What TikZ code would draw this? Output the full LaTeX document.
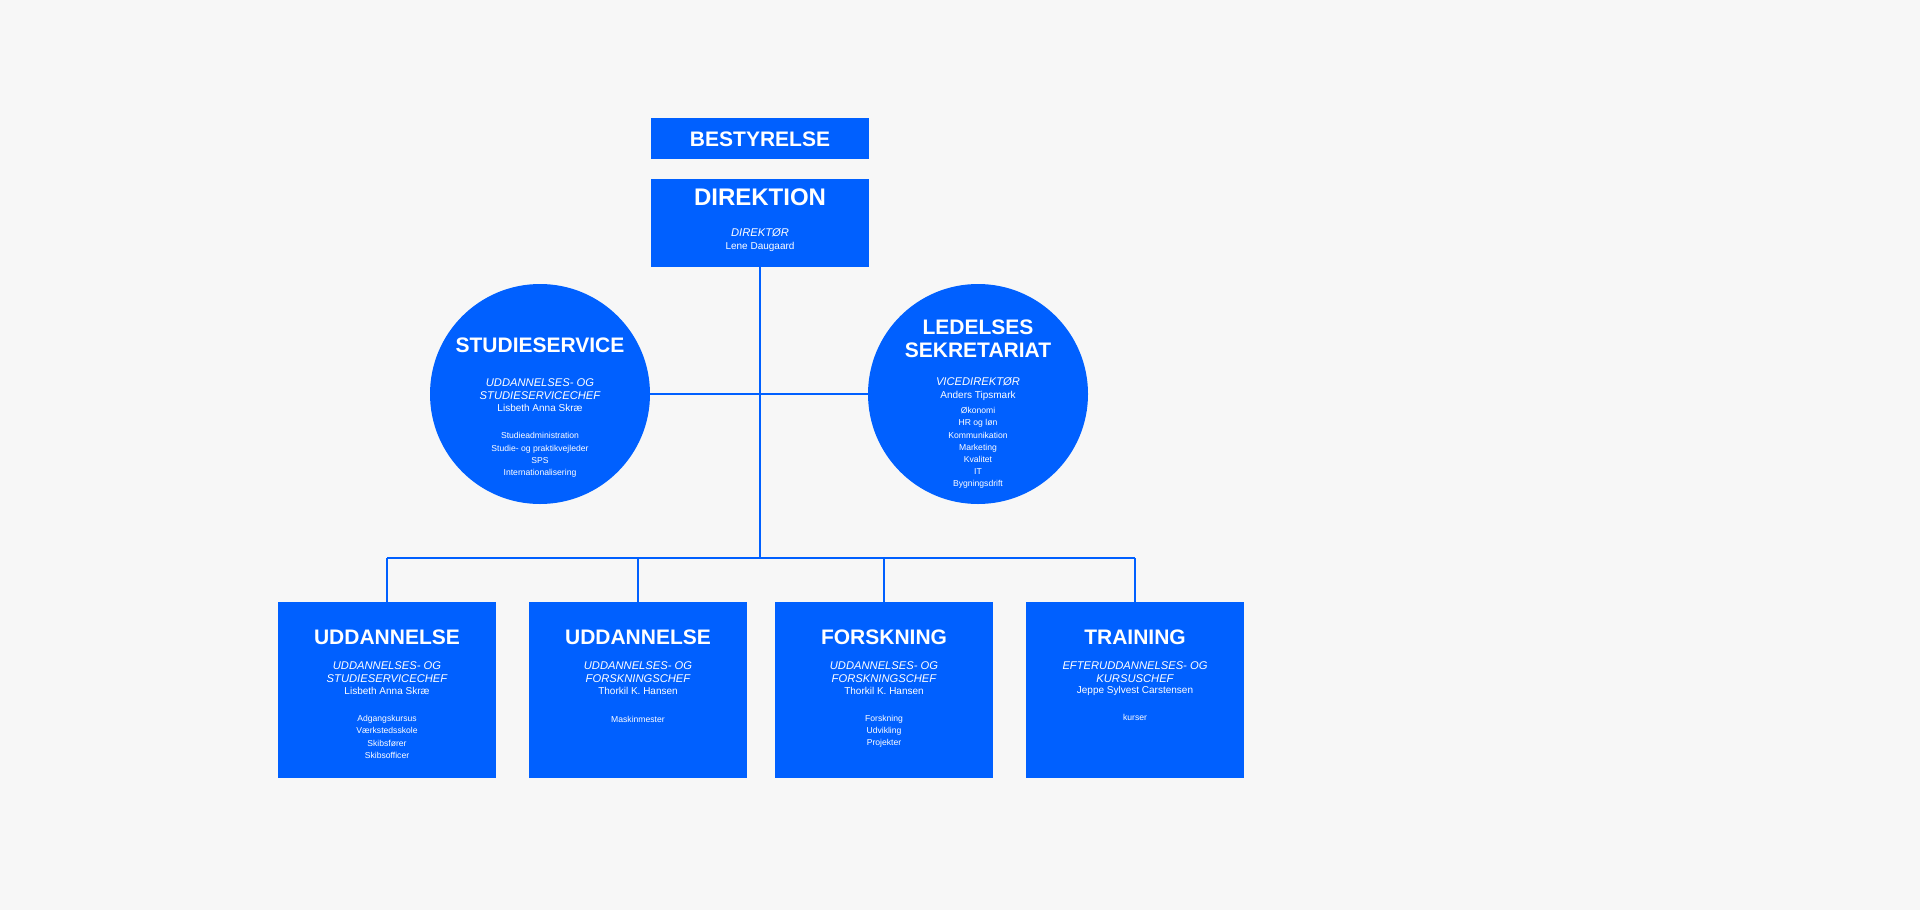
\documentclass[tikz,border=0pt]{standalone}
\usepackage{fontspec}
\setmainfont{Liberation Sans}
\definecolor{blaa}{HTML}{0060FF}
\definecolor{bund}{HTML}{F7F7F7}
\tikzset{
  boks/.style={fill=blaa, draw=none},
  titel/.style={text=white, font=\fontsize{10.5}{12}\selectfont\bfseries, align=center},
  rolle/.style={text=white, font=\fontsize{5.6}{6.4}\selectfont\itshape, align=center},
  navn/.style={text=white, font=\fontsize{5}{6}\selectfont, align=center},
  punkt/.style={text=white, font=\fontsize{4.3}{6.1}\selectfont, align=center},
  linje/.style={blaa, line width=1.2pt}
}
\begin{document}
\begin{tikzpicture}[x=0.5pt, y=-0.5pt]

    % Baggrund
    \fill[bund] (0,0) rectangle (1920,910);
    \useasboundingbox (0,0) rectangle (1920,910);

    % Forbindelser
    \coordinate (top) at (760,267);
    \coordinate (midt) at (760,394);
    \coordinate (bus) at (760,558);
    \coordinate (b1) at (387,558);
    \coordinate (b4) at (1135,558);
    \draw[linje] (top) -- (bus);
    \draw[linje] (540,394) -- (978,394);
    \draw[linje] (b1) -- (b4);
    \foreach \x in {387,638,884,1135}
      \draw[linje] (\x,558) -- (\x,602);

    % Bestyrelse og direktion
    \fill[boks] (651,118) rectangle (869,159);
    \node[titel] (best) at (760,139) {BESTYRELSE};
    \fill[boks] (651,179) rectangle (869,267);
    \node[titel, font=\fontsize{12}{14}\selectfont\bfseries] (dir) at (760,197) {DIREKTION};
    \node[rolle] (dirrolle) at (760,233) {DIREKTØR};
    \node[navn] (dirnavn) at (760,247) {Lene Daugaard};

    % Cirkler
    \fill[blaa] (540,394) circle (110);
    \fill[blaa] (978,394) circle (110);
    \node[titel] (stud) at (540,345) {STUDIESERVICE};
    \node[rolle] (studrolle) at (540,389) {UDDANNELSES- OG\\STUDIESERVICECHEF};
    \node[navn] (studnavn) at (540,408) {Lisbeth Anna Skræ};
    \node[punkt] (studpkt) at (540,455) {Studieadministration\\Studie- og praktikvejleder\\SPS\\Internationalisering};
    \node[titel, font=\fontsize{10.5}{11.5}\selectfont\bfseries] (led) at (978,339) {LEDELSES\\SEKRETARIAT};
    \node[rolle] (ledrolle) at (978,382) {VICEDIREKTØR};
    \node[navn] (lednavn) at (978,396) {Anders Tipsmark};
    \node[punkt] (ledpkt) at (978,448) {Økonomi\\HR og løn\\Kommunikation\\Marketing\\Kvalitet\\IT\\Bygningsdrift};

    % Afdelinger
    \foreach \x/\t/\r/\n/\p/\py in {
        387/UDDANNELSE/{UDDANNELSES- OG\\STUDIESERVICECHEF}/{Lisbeth Anna Skræ}/{Adgangskursus\\Værkstedsskole\\Skibsfører\\Skibsofficer}/737,
        638/UDDANNELSE/{UDDANNELSES- OG\\FORSKNINGSCHEF}/{Thorkil K. Hansen}/{Maskinmester}/719,
        884/FORSKNING/{UDDANNELSES- OG\\FORSKNINGSCHEF}/{Thorkil K. Hansen}/{Forskning\\Udvikling\\Projekter}/731,
        1135/TRAINING/{EFTERUDDANNELSES- OG\\KURSUSCHEF}/{Jeppe Sylvest Carstensen}/{kurser}/717} {
      \fill[boks] (\x-109,602) rectangle (\x+109,778);
      \node[titel] (afd\x) at (\x,637) {\t};
      \node[rolle] (rolle\x) at (\x,672) {\r};
      \node[navn] (navn\x) at (\x,691) {\n};
      \node[punkt] (pkt\x) at (\x,\py) {\p};
    }

  \end{tikzpicture}
\end{document}
